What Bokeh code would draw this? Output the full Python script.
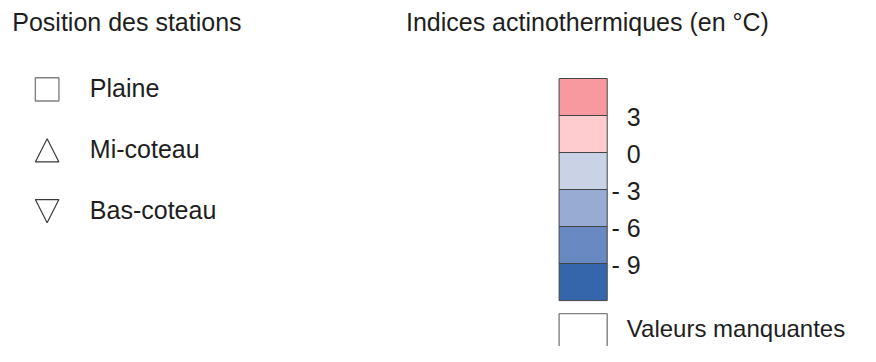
from bokeh.plotting import figure
from bokeh.models import Range1d, ColumnDataSource
from bokeh.core.properties import value
from bokeh.embed import file_html
from bokeh.resources import INLINE

# ---- data ----
positions = ["Plaine", "Mi-coteau", "Bas-coteau"]
position_markers = ["square", "triangle_up", "triangle_down"]
class_colors = ["#F8999F", "#FECBCE", "#CAD3E6", "#97ABD3", "#6889C2", "#3566AC"]
tick_labels = ["3", "0", "- 3", "- 6", "- 9"]
missing_label = "Valeurs manquantes"
title_left = "Position des stations"
title_right = "Indices actinothermiques (en °C)"

FONT = value("Liberation Sans")
FS = "25px"
TXT = "#1e1e1e"

W, H = 860, 346
p = figure(width=W, height=H, output_backend="svg", toolbar_location=None,
           x_range=Range1d(0, 876), y_range=Range1d(360, 2),
           min_border=0, outline_line_color=None)
p.axis.visible = False
p.grid.visible = False
p.background_fill_color = "white"
p.border_fill_color = "white"

# titles
p.text(x=[12, 413], y=[24, 24], text=[title_left, title_right],
       text_font=FONT, text_font_size=FS, text_color=TXT,
       text_baseline="middle", text_align="left")

# position legend
step = 63
mx, ms = 47.5, 24
for i, (name, mk) in enumerate(zip(positions, position_markers)):
    cy = 94 + i * step
    if mk == "square":
        p.quad(left=[mx - ms / 2], right=[mx + ms / 2], top=[cy - ms / 2], bottom=[cy + ms / 2],
               fill_color=None, line_color="#808080", line_width=1.4)
    elif mk == "triangle_up":
        p.patch(x=[mx - ms / 2, mx + ms / 2, mx], y=[cy + ms / 2, cy + ms / 2, cy - ms / 2],
                fill_color=None, line_color="#3a3a3a", line_width=1.2)
    else:
        p.patch(x=[mx - ms / 2, mx + ms / 2, mx], y=[cy - ms / 2, cy - ms / 2, cy + ms / 2],
                fill_color=None, line_color="#3a3a3a", line_width=1.2)
    p.text(x=[91], y=[93 + i * step], text=[name], text_font=FONT, text_font_size=FS,
           text_color=TXT, text_baseline="middle", text_align="left")

# colour classes
bx0, bx1 = 569, 618
top0, bh = 82.7, 38.3
n = len(class_colors)
tops = [top0 + i * bh for i in range(n)]
src = ColumnDataSource(dict(left=[bx0] * n, right=[bx1] * n, top=tops,
                            bottom=[t + bh for t in tops], color=class_colors))
p.quad(left="left", right="right", top="top", bottom="bottom", fill_color="color",
       line_color="#444444", line_width=1, source=src)

# tick labels at class boundaries
ty = [top0 + (i + 1) * bh + 1.5 for i in range(len(tick_labels))]
p.text(x=[652] * len(tick_labels), y=ty, text=tick_labels, text_font=FONT, text_font_size=FS,
       text_color=TXT, text_baseline="middle", text_align="right")

# missing values
p.quad(left=[bx0], right=[bx1], top=[326], bottom=[326 + bh], fill_color="white",
       line_color="#808080", line_width=1.4)
p.text(x=[638], y=[341], text=[missing_label], text_font=FONT, text_font_size="24px",
       text_color=TXT, text_baseline="middle", text_align="left")

open("out.html", "w").write(file_html(p, INLINE))
